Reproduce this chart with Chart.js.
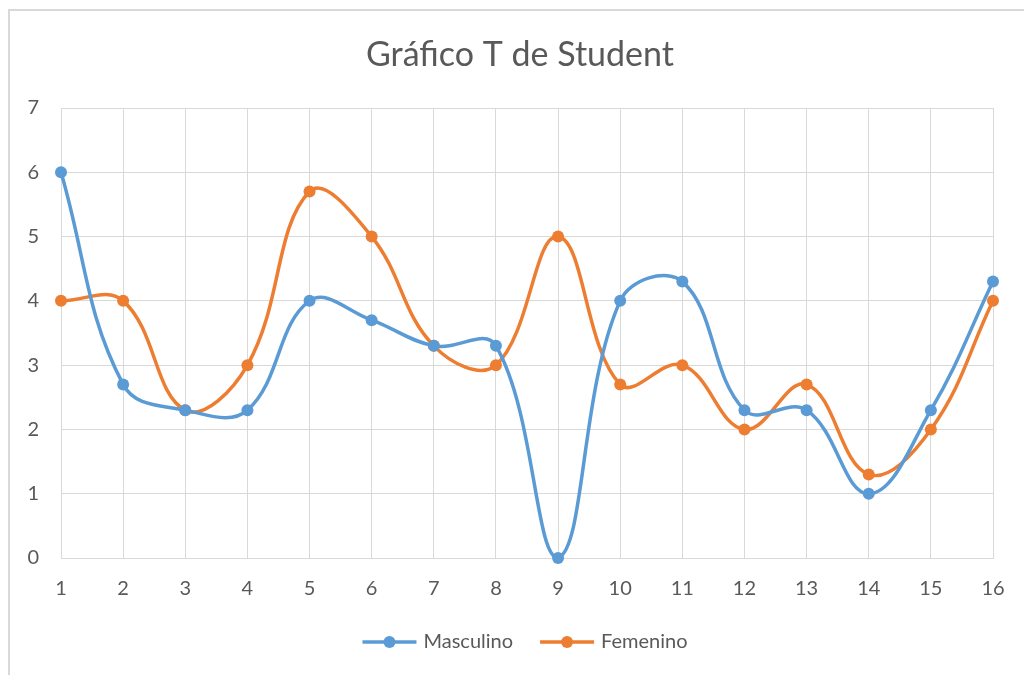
<!DOCTYPE html>
<html>
<head>
<meta charset="utf-8">
<script src="https://cdn.jsdelivr.net/npm/chart.js@4/dist/chart.umd.min.js"></script>
<style>
  html, body { margin: 0; padding: 0; background: #fff; overflow: hidden; }
  #frame { position: absolute; left: 8px; top: 9px; width: 1100px; height: 800px; border: 2px solid #d9d9d9; }
  #c { position: absolute; left: 0; top: 0; }
</style>
</head>
<body>
<div id="frame"></div>
<canvas id="c" width="1024" height="675"></canvas>
<script>
// Gráfico T de Student — two smoothed series over 16 cases.

const labels = ['1','2','3','4','5','6','7','8','9','10','11','12','13','14','15','16'];
const masculino = [6, 2.7, 2.3, 2.3, 4, 3.7, 3.3, 3.3, 0, 4, 4.3, 2.3, 2.3, 1, 2.3, 4.3];
const femenino  = [4, 4, 2.3, 3, 5.7, 5, 3.3, 3, 5, 2.7, 3, 2, 2.7, 1.3, 2, 4];
const title = 'Gráfico T de Student';

const BLUE = '#5b9bd5';
const ORANGE = '#ed7d31';
const TEXT = '#595959';
const GRID = '#d9d9d9';
const FONT = 'Lato, "Open Sans", sans-serif';

// Title centred on the whole frame (Chart.js would centre it on the padded box).
const titlePlugin = {
  id: 'frameTitle',
  afterDraw(chart) {
    const ctx = chart.ctx;
    ctx.save();
    ctx.font = '34px ' + FONT;
    ctx.fillStyle = TEXT;
    ctx.textAlign = 'center';
    ctx.textBaseline = 'middle';
    ctx.fillText(title, 520, 55);
    ctx.restore();
  },
};

// Excel-style legend: short line with a dot, then the label, centred under the plot.
const legendPlugin = {
  id: 'lineLegend',
  afterDraw(chart) {
    const ctx = chart.ctx;
    const y = 642;
    const lineW = 54, gap = 7, between = 27;
    ctx.save();
    ctx.font = '20px ' + FONT;
    const items = chart.data.datasets.map(ds => ({
      label: ds.label, color: ds.borderColor, w: ctx.measureText(ds.label).width,
    }));
    const total = items.reduce((s, it) => s + lineW + gap + it.w, 0) + between * (items.length - 1);
    let x = 525 - total / 2;
    items.forEach(it => {
      ctx.strokeStyle = it.color;
      ctx.lineWidth = 3.5;
      ctx.beginPath(); ctx.moveTo(x, y); ctx.lineTo(x + lineW, y); ctx.stroke();
      ctx.fillStyle = it.color;
      ctx.beginPath(); ctx.arc(x + lineW / 2, y, 6, 0, Math.PI * 2); ctx.fill();
      ctx.fillStyle = TEXT;
      ctx.textBaseline = 'middle';
      ctx.fillText(it.label, x + lineW + gap, y);
      x += lineW + gap + it.w + between;
    });
    ctx.restore();
  },
};

const mkSet = (label, data, color) => ({
  label, data,
  borderColor: color, backgroundColor: color,
  borderWidth: 3.5, tension: 0.4,
  pointRadius: 6, pointHoverRadius: 6, pointBorderWidth: 0,
  clip: 8,
});

new Chart(document.getElementById('c'), {
  type: 'line',
  data: { labels, datasets: [
    mkSet('Masculino', masculino, BLUE),
    mkSet('Femenino', femenino, ORANGE),
  ]},
  options: {
    responsive: false,
    animation: false,
    layout: { padding: { left: 0, right: 31, top: 108, bottom: 57 } },
    scales: {
      x: {
        offset: false,
        grid: { color: GRID, lineWidth: 1, drawTicks: false },
        border: { color: GRID },
        ticks: { color: TEXT, font: { family: FONT, size: 20 }, padding: 19, maxRotation: 0 },
        afterFit: s => { s.height = 60; },
      },
      y: {
        min: 0, max: 7,
        grid: { color: GRID, lineWidth: 1, drawTicks: false },
        border: { display: false },
        ticks: { stepSize: 1, color: TEXT, font: { family: FONT, size: 20 }, padding: 22 },
        afterFit: s => { s.width = 61; },
      },
    },
    plugins: {
      legend: { display: false },
      tooltip: { enabled: false },
      title: { display: false },
    },
  },
  plugins: [titlePlugin, legendPlugin],
});
</script>
</body>
</html>
